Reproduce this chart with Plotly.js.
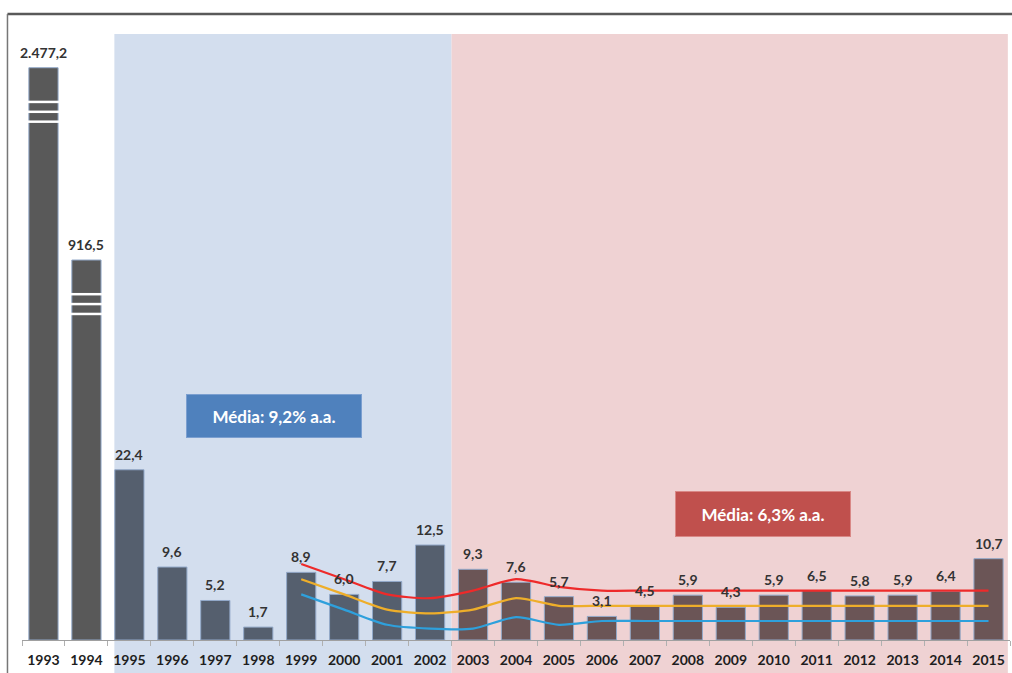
<!DOCTYPE html>
<html>
<head>
<meta charset="utf-8">
<script src="https://cdn.plot.ly/plotly-3.0.1.min.js"></script>
<style>html,body{margin:0;padding:0;background:#fff;}#chart{width:1012px;height:673px;}</style>
</head>
<body>
<div id="chart"></div>
<script>
// ---- data ----
const years = ["1993","1994","1995","1996","1997","1998","1999","2000","2001","2002","2003","2004","2005","2006","2007","2008","2009","2010","2011","2012","2013","2014","2015"];
const values = [2477.2, 916.5, 22.4, 9.6, 5.2, 1.7, 8.9, 6.0, 7.7, 12.5, 9.3, 7.6, 5.7, 3.1, 4.5, 5.9, 4.3, 5.9, 6.5, 5.8, 5.9, 6.4, 10.7];
// heights at which the broken (axis-break) bars are drawn
const axisBreakTops = {"1993": 75.3, "1994": 50.0};
const targetYears = ["1999","2000","2001","2002","2003","2004","2005","2006","2007","2008","2009","2010","2011","2012","2013","2014","2015"];
const upperLimit = [10, 8, 6, 5.5, 6.5, 8, 7, 6.5, 6.5, 6.5, 6.5, 6.5, 6.5, 6.5, 6.5, 6.5, 6.5];
const centerTarget = [8, 6, 4, 3.5, 4, 5.5, 4.5, 4.5, 4.5, 4.5, 4.5, 4.5, 4.5, 4.5, 4.5, 4.5, 4.5];
const lowerLimit = [6, 4, 2, 1.5, 1.5, 3, 2, 2.5, 2.5, 2.5, 2.5, 2.5, 2.5, 2.5, 2.5, 2.5, 2.5];
const periodLabels = ["Média: 9,2% a.a.", "Média: 6,3% a.a."];
const periodStart = ["1995", "2003"];

// ---- helpers ----
function fmt(v){
  const s = v.toFixed(1).split(".");
  const ip = s[0].replace(/\B(?=(\d{3})+(?!\d))/g, ".");
  return ip + "," + s[1];
}
const FONT = "Lato, 'Open Sans', sans-serif";
const displayValues = values.map((v,i)=> axisBreakTops[years[i]] !== undefined ? axisBreakTops[years[i]] : v);
const idx = y => years.indexOf(y);
const barColors = years.map(y => {
  const n = +y;
  if (n < 1995) return "#595959";
  if (n < 2003) return "#555f6e";
  return "#6b5556";
});

const traces = [
  {type:"bar", x: years, y: displayValues, marker:{color: barColors, line:{color:"#93a9c9", width:1}}, hoverinfo:"skip", showlegend:false},
  {type:"scatter", mode:"lines", x: targetYears, y: upperLimit, line:{color:"#ee2a2a", width:2.2, shape:"spline", smoothing:0.7}, showlegend:false, hoverinfo:"skip"},
  {type:"scatter", mode:"lines", x: targetYears, y: centerTarget, line:{color:"#eeae2a", width:2.2, shape:"spline", smoothing:0.7}, showlegend:false, hoverinfo:"skip"},
  {type:"scatter", mode:"lines", x: targetYears, y: lowerLimit, line:{color:"#2ea0dc", width:2.2, shape:"spline", smoothing:0.7}, showlegend:false, hoverinfo:"skip"}
];

const n = years.length;
const shapes = [
  {type:"rect", layer:"below", xref:"x", yref:"paper", x0: idx(periodStart[0]) - 0.35, x1: idx(periodStart[1]) - 0.5, y0:-0.1, y1:0.968, fillcolor:"#d3deee", line:{width:0}},
  {type:"rect", layer:"below", xref:"x", yref:"paper", x0: idx(periodStart[1]) - 0.5, x1: n - 0.55, y0:-0.1, y1:0.968, fillcolor:"#efd2d3", line:{width:0}},
  {type:"line", xref:"paper", yref:"paper", x0:-0.0147, x1:1.01, y0:1, y1:1, line:{color:"#595959", width:2.5}},
  {type:"line", xref:"paper", yref:"paper", x0:-0.0147, x1:-0.0147, y0:-0.1, y1:1, line:{color:"#777", width:1.5}}
];
const stripeOffsets = [4.5, 5.8, 7.1];
Object.keys(axisBreakTops).forEach(y => {
  const i = idx(y);
  stripeOffsets.forEach(o => {
    shapes.push({type:"line", layer:"above", xref:"x", yref:"y", x0:i-0.36, x1:i+0.36, y0:axisBreakTops[y]-o, y1:axisBreakTops[y]-o, line:{color:"#ffffff", width:2.5}});
  });
});

const annotations = years.map((y,i)=>({
  x: i, y: displayValues[i], xref:"x", yref:"y", text: "<b>" + fmt(values[i]) + "</b>", showarrow:false,
  yanchor:"bottom", yshift:5, font:{family:FONT, size:14, color:"#333333"}
}));
annotations.push({x: 5.36, y: 29.5, xref:"x", yref:"y", text: "<b>"+periodLabels[0]+"</b>", showarrow:false,
  width:172, height:40, bgcolor:"#4f81bd", bordercolor:"#7b9fd0", borderwidth:1, font:{family:FONT, size:17, color:"#ffffff"}});
annotations.push({x: 16.76, y: 16.6, xref:"x", yref:"y", text: "<b>"+periodLabels[1]+"</b>", showarrow:false,
  width:172, height:42, bgcolor:"#c0504d", bordercolor:"#d98886", borderwidth:1, font:{family:FONT, size:17, color:"#ffffff"}});

const layout = {
  width:1012, height:673,
  margin:{l:22, r:2, t:14, b:33},
  paper_bgcolor:"#ffffff", plot_bgcolor:"rgba(0,0,0,0)",
  bargap:0.32,
  showlegend:false,
  xaxis:{type:"category", range:[-0.5, n-0.5], showgrid:false, zeroline:false,
    showline:true, linecolor:"#a0a0a0", linewidth:1,
    ticks:"outside", tickson:"boundaries", ticklen:5, tickcolor:"#b0b0b0", tickangle:0,
    tickfont:{family:FONT, size:14, color:"#1e1e1e", weight:700}, ticklabelstandoff:7},
  yaxis:{visible:false, range:[0, 626/7.6], fixedrange:true},
  shapes: shapes,
  annotations: annotations
};
Plotly.newPlot("chart", traces, layout, {staticPlot:true, displayModeBar:false});
</script>
</body>
</html>
